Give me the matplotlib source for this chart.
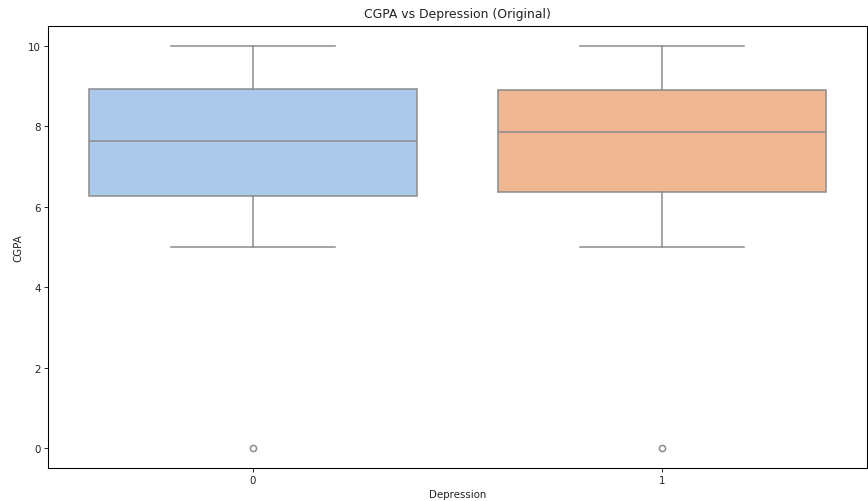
import matplotlib
matplotlib.use("Agg")
import matplotlib.pyplot as plt
import seaborn as sns

categories = ["0", "1"]
whisker_low = [5.0, 5.0]
q1 = [6.26, 6.38]
median = [7.64, 7.85]
q3 = [8.92, 8.91]
whisker_high = [10.0, 10.0]
outliers = [[0.0], [0.0]]

palette = sns.color_palette("pastel", 2)
fills = [sns.desaturate(c, 0.75) for c in palette]
line_color = "#8c8c8c"

stats = []
for i, cat in enumerate(categories):
    stats.append({
        "label": cat,
        "whislo": whisker_low[i],
        "q1": q1[i],
        "med": median[i],
        "q3": q3[i],
        "whishi": whisker_high[i],
        "fliers": outliers[i],
    })

# reference looks like a larger figure shrunk down, so scale text and lines
s = 0.74

fig = plt.figure(figsize=(8.68, 5.02), dpi=100)
ax = fig.add_axes([48 / 868, 33 / 502, 819 / 868, 442 / 502])

lw = 1.5 * s
bp = ax.bxp(
    stats,
    positions=range(len(categories)),
    widths=0.8,
    patch_artist=True,
    boxprops=dict(edgecolor=line_color, linewidth=lw),
    medianprops=dict(color=line_color, linewidth=lw),
    whiskerprops=dict(color=line_color, linewidth=lw),
    capprops=dict(color=line_color, linewidth=lw),
    flierprops=dict(marker="o", markerfacecolor="none", markeredgecolor=line_color,
                    markersize=6 * s, markeredgewidth=lw),
    capwidths=0.4,
)
for patch, c in zip(bp["boxes"], fills):
    patch.set_facecolor(c)

ax.set_xlim(-0.5, 1.5)
ax.set_ylim(-0.5, 10.5)
ax.set_yticks([0, 2, 4, 6, 8, 10])
ax.set_xticks(range(len(categories)))
ax.set_xticklabels(categories)
ax.tick_params(labelsize=10 * s, length=3.5 * s, width=0.8 * s, pad=3.5 * s,
               labelcolor="#222222")
for spine in ax.spines.values():
    spine.set_linewidth(0.8 * s * 1.3)
ax.set_xlabel("Depression", fontsize=10 * s, labelpad=4 * s, color="#222222")
ax.set_ylabel("CGPA", fontsize=10 * s, labelpad=4 * s, color="#222222")
ax.set_title("CGPA vs Depression (Original)", fontsize=12 * s, pad=9 * s,
             color="#222222")

fig.savefig("out.png", dpi=100)
plt.close(fig)
